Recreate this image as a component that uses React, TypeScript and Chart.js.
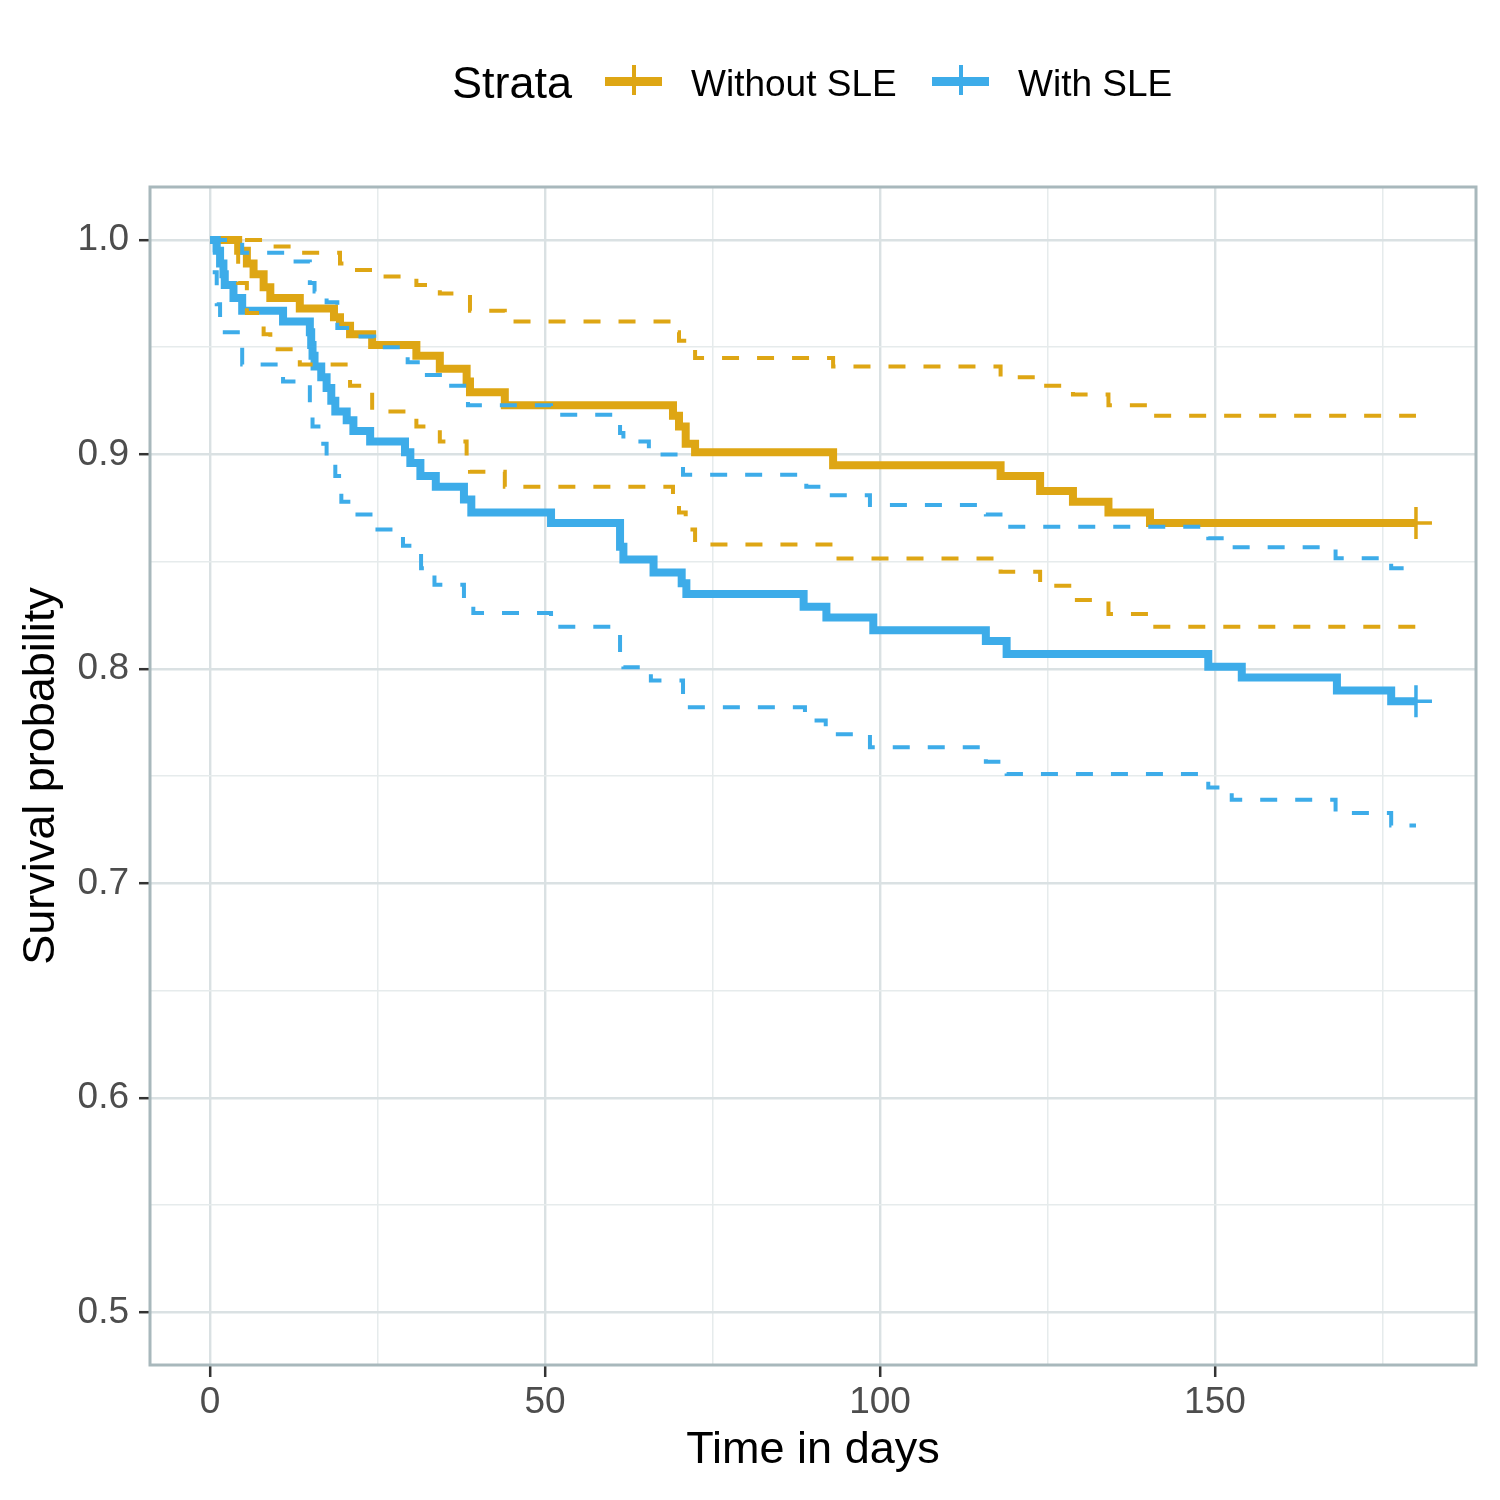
import React, { useEffect, useRef } from "react";
import { Chart, registerables } from "chart.js";

Chart.register(...registerables);

// ---- Data ----
const withoutTime = [0, 4.2, 5.5, 6.5, 8, 9, 13.4, 18.5, 19.4, 20.9, 24.2, 30.8, 34.3, 38.3, 38.8, 44, 69.1, 70, 71, 72.4, 93, 118, 123.9, 128.8, 134.1, 140.3, 180];
const withoutSurv = [1, 0.995, 0.989, 0.984, 0.978, 0.973, 0.968, 0.964, 0.96, 0.956, 0.951, 0.946, 0.94, 0.934, 0.929, 0.923, 0.918, 0.913, 0.905, 0.901, 0.895, 0.89, 0.883, 0.878, 0.873, 0.868, 0.868];

const withoutUpperTime = [0, 9, 13.4, 19.4, 20.9, 24.2, 30.8, 34.3, 38.8, 44, 69.1, 70, 72.4, 93, 118, 123.9, 128.8, 134.1, 140.3, 180];
const withoutUpperSurv = [1, 0.997, 0.994, 0.989, 0.986, 0.983, 0.979, 0.975, 0.967, 0.962, 0.957, 0.953, 0.945, 0.941, 0.936, 0.932, 0.928, 0.923, 0.918, 0.918];

const withoutLowerTime = [0, 4.2, 5.5, 8, 9, 13.4, 20.9, 24.2, 30.8, 34.3, 38.3, 38.8, 44, 69.1, 70, 71, 72.4, 93, 118, 123.9, 128.8, 134.1, 140.3, 180];
const withoutLowerSurv = [1, 0.98, 0.966, 0.956, 0.949, 0.942, 0.932, 0.92, 0.913, 0.906, 0.899, 0.892, 0.885, 0.879, 0.873, 0.865, 0.858, 0.8515, 0.8453, 0.8388, 0.8321, 0.8256, 0.8197, 0.8197];

const withTime = [0, 1, 1.5, 2, 2.2, 3.5, 4.8, 10.9, 14.9, 15.1, 15.3, 15.6, 16.6, 17.4, 18.1, 18.7, 20.4, 21.4, 23.9, 29.1, 29.9, 31.4, 33.7, 37.9, 39, 50.9, 61.2, 61.7, 66.2, 70.4, 71.1, 88.6, 92, 99, 115.8, 118.9, 149, 154, 168.2, 176.3, 180];
const withSurv = [1, 0.995, 0.989, 0.984, 0.979, 0.973, 0.967, 0.962, 0.957, 0.951, 0.946, 0.941, 0.936, 0.931, 0.925, 0.92, 0.916, 0.911, 0.906, 0.901, 0.896, 0.89, 0.885, 0.879, 0.873, 0.868, 0.857, 0.851, 0.845, 0.84, 0.835, 0.829, 0.824, 0.818, 0.813, 0.807, 0.801, 0.796, 0.79, 0.785, 0.785];

const withUpperTime = [0, 4.8, 12, 14.9, 15.6, 17.4, 19, 21.4, 24.5, 29.5, 31.9, 35.5, 38.5, 50.9, 61.2, 61.7, 65.5, 70.6, 89, 92, 98.5, 115.8, 118.5, 149, 152.5, 168, 176.3, 180];
const withUpperSurv = [1, 0.994, 0.99, 0.98, 0.976, 0.971, 0.959, 0.955, 0.95, 0.943, 0.937, 0.932, 0.923, 0.9185, 0.91, 0.906, 0.9, 0.8905, 0.885, 0.881, 0.8764, 0.872, 0.8663, 0.8609, 0.8567, 0.8516, 0.8469, 0.8469];

const withLowerTime = [0, 0.7, 1, 1.5, 4.8, 10.9, 14.9, 15.3, 16.6, 17.4, 18.7, 19.6, 21.4, 24.3, 28.8, 31.5, 33.5, 37.9, 39.3, 50.9, 61.2, 61.7, 65.8, 70.6, 88.8, 91.9, 98.5, 115.8, 118.9, 149, 152.5, 168, 176.3, 180];
const withLowerSurv = [1, 0.985, 0.97, 0.957, 0.942, 0.934, 0.923, 0.913, 0.905, 0.898, 0.89, 0.878, 0.872, 0.865, 0.8575, 0.847, 0.8393, 0.8323, 0.8261, 0.8197, 0.807, 0.8008, 0.7946, 0.7822, 0.776, 0.7696, 0.7635, 0.7568, 0.751, 0.7447, 0.739, 0.7328, 0.727, 0.727];

const censorWithout = [180];
const censorWith = [180];

const xTicks = [0, 25, 50, 75, 100, 125, 150, 175];
const xLabels = ["0", "", "50", "", "100", "", "150", ""];
const yTicks = [0.5, 0.55, 0.6, 0.65, 0.7, 0.75, 0.8, 0.85, 0.9, 0.95, 1.0];
const yLabels = ["0.5", "", "0.6", "", "0.7", "", "0.8", "", "0.9", "", "1.0"];

const legendTitle = "Strata";
const seriesNames = ["Without SLE", "With SLE"];
const xTitle = "Time in days";
const yTitle = "Survival probability";

const GOLD = "#DEA614";
const BLUE = "#3DACE9";
const FONT = '"Liberation Sans", Arial, Helvetica, sans-serif';

const zip = (t: number[], s: number[]) => t.map((x, i) => ({ x, y: s[i] }));
const survAt = (t: number[], s: number[], time: number) => {
  let v = s[0];
  for (let i = 0; i < t.length; i++) if (t[i] <= time) v = s[i];
  return v;
};

const panelBorder = {
  id: "panelBorder",
  afterDraw(chart: any) {
    const { ctx, chartArea } = chart;
    ctx.save();
    ctx.strokeStyle = "#A8B8BC";
    ctx.lineWidth = 3;
    ctx.strokeRect(chartArea.left, chartArea.top, chartArea.right - chartArea.left, chartArea.bottom - chartArea.top);
    ctx.restore();
  },
};

export default function App() {
  const ref = useRef<HTMLCanvasElement | null>(null);

  useEffect(() => {
    document.body.style.margin = "0";
    if (!ref.current) return;

    const mainLine = (label: string, data: any[], color: string) => ({
      label,
      data,
      borderColor: color,
      backgroundColor: color,
      borderWidth: 8,
      stepped: "before" as const,
      pointRadius: 0,
      borderJoinStyle: "miter" as const,
      fill: false,
    });
    const dashLine = (label: string, data: any[], color: string) => ({
      label,
      data,
      borderColor: color,
      backgroundColor: color,
      borderWidth: 4,
      borderDash: [17, 18],
      stepped: "before" as const,
      pointRadius: 0,
      fill: false,
    });
    const censor = (label: string, times: number[], t: number[], s: number[], color: string) => ({
      type: "scatter" as const,
      label,
      data: times.map((x) => ({ x, y: survAt(t, s, x) })),
      borderColor: color,
      backgroundColor: color,
      pointStyle: "cross",
      pointRadius: 16,
      pointBorderWidth: 3.5,
      showLine: false,
    });

    const isMajorX = (i: number) => xLabels[i] !== "";
    const isMajorY = (i: number) => yLabels[i] !== "";

    const chart = new Chart(ref.current, {
      type: "line",
      data: {
        datasets: [
          censor("Without SLE censored", censorWithout, withoutTime, withoutSurv, GOLD),
          censor("With SLE censored", censorWith, withTime, withSurv, BLUE),
          dashLine("With SLE upper", zip(withUpperTime, withUpperSurv), BLUE),
          dashLine("With SLE lower", zip(withLowerTime, withLowerSurv), BLUE),
          dashLine("Without SLE upper", zip(withoutUpperTime, withoutUpperSurv), GOLD),
          dashLine("Without SLE lower", zip(withoutLowerTime, withoutLowerSurv), GOLD),
          mainLine(seriesNames[1], zip(withTime, withSurv), BLUE),
          mainLine(seriesNames[0], zip(withoutTime, withoutSurv), GOLD),
        ] as any,
      },
      options: {
        animation: false,
        responsive: false,
        devicePixelRatio: 1,
        layout: { padding: { top: 187, right: 24, left: 0, bottom: 0 } },
        plugins: { legend: { display: false }, tooltip: { enabled: false } },
        scales: {
          x: {
            type: "linear",
            min: -8.96,
            max: 188.96,
            afterFit: (s: any) => { s.height = 135; },
            afterBuildTicks: (s: any) => { s.ticks = xTicks.map((v) => ({ value: v })); },
            ticks: {
              autoSkip: false,
              maxRotation: 0,
              padding: 4,
              color: "#4D4D4D",
              font: { family: FONT, size: 37 },
              callback: (_v: any, i: number) => xLabels[i],
            },
            grid: {
              color: (c: any) => (isMajorX(c.index) ? "#DAE1E3" : "#E6EBEC"),
              lineWidth: (c: any) => (isMajorX(c.index) ? 2.4 : 1.5),
              drawTicks: true,
              tickLength: 12,
              tickColor: (c: any) => (isMajorX(c.index) ? "#333333" : "rgba(0,0,0,0)"),
              tickWidth: 2.5,
            },
            border: { display: false },
            title: {
              display: true,
              text: xTitle,
              color: "#000000",
              font: { family: FONT, size: 45 },
              padding: { top: 0, bottom: 22 },
            },
          },
          y: {
            type: "linear",
            min: 0.4755,
            max: 1.0247,
            afterFit: (s: any) => { s.width = 150; },
            afterBuildTicks: (s: any) => { s.ticks = yTicks.map((v) => ({ value: v })); },
            ticks: {
              autoSkip: false,
              padding: 10,
              color: "#4D4D4D",
              font: { family: FONT, size: 37 },
              callback: (_v: any, i: number) => yLabels[i],
            },
            grid: {
              color: (c: any) => (isMajorY(c.index) ? "#DAE1E3" : "#E6EBEC"),
              lineWidth: (c: any) => (isMajorY(c.index) ? 2.4 : 1.5),
              drawTicks: true,
              tickLength: 11,
              tickColor: (c: any) => (isMajorY(c.index) ? "#333333" : "rgba(0,0,0,0)"),
              tickWidth: 2.5,
            },
            border: { display: false },
            title: {
              display: true,
              text: yTitle,
              color: "#000000",
              font: { family: FONT, size: 45 },
              padding: { top: 15, bottom: 0 },
            },
          },
        },
      } as any,
      plugins: [panelBorder],
    });
    return () => chart.destroy();
  }, []);

  const colors = [GOLD, BLUE];
  const swatchLeft = [605, 932];
  const labelLeft = [691, 1018];

  return (
    <div style={{ position: "relative", width: 1500, height: 1500, fontFamily: FONT, background: "#FFFFFF" }}>
      <canvas ref={ref} width={1500} height={1500} style={{ display: "block", width: 1500, height: 1500 }} />
      <div style={{ position: "absolute", left: 452, top: 60, fontSize: 45, lineHeight: "45px", color: "#000", whiteSpace: "nowrap" }}>
        {legendTitle}
      </div>
      {seriesNames.map((name, i) => (
        <React.Fragment key={name}>
          <div style={{ position: "absolute", left: swatchLeft[i], top: 77, width: 57, height: 9, background: colors[i] }} />
          <div style={{ position: "absolute", left: swatchLeft[i] + 27, top: 65, width: 4, height: 30, background: colors[i] }} />
          <div style={{ position: "absolute", left: labelLeft[i], top: 65, fontSize: 37, lineHeight: "37px", color: "#000", whiteSpace: "nowrap" }}>
            {name}
          </div>
        </React.Fragment>
      ))}
    </div>
  );
}
